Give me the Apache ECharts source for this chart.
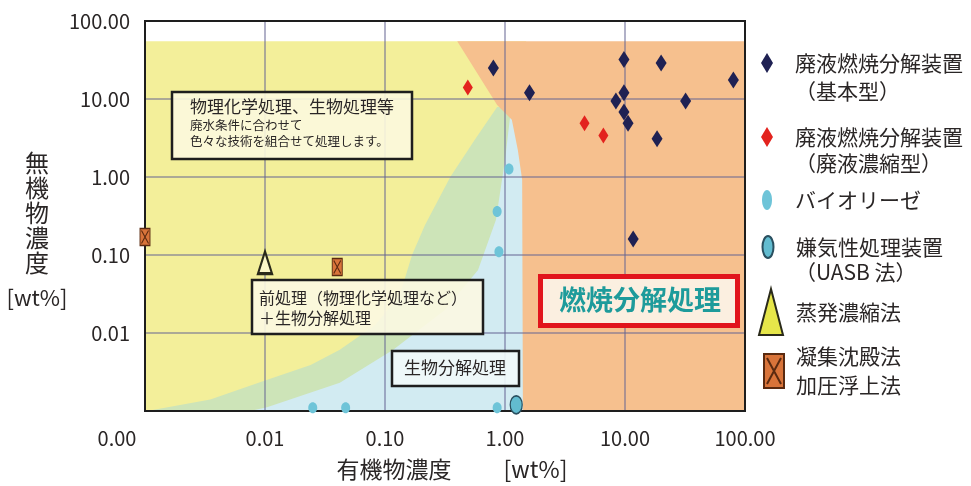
<!DOCTYPE html>
<html>
<head>
<meta charset="utf-8">
<script src="https://cdn.jsdelivr.net/npm/echarts@6/dist/echarts.min.js"></script>
<style>
html,body{margin:0;padding:0;background:#fff;}
#chart{width:971px;height:486px;}
</style>
</head>
<body>
<div id="chart"></div>
<script>
// ---- tick labels ----
const xTickLabels = ['0.00', '0.01', '0.10', '1.00', '10.00', '100.00'];
const yTickLabels = ['', '0.01', '0.10', '1.00', '10.00', '100.00'];

// ---- background regions [organic wt%, inorganic wt%] ----
const yellowRegion = [[0.001, 0.001], [0.001, 55], [1.5, 55], [1.5, 0.001]];
const greenRegion = [[0.00104, 0.001], [0.0035, 0.0014], [0.0096, 0.0024], [0.024, 0.0039], [0.042, 0.0061],
  [0.083, 0.0127], [0.133, 0.031], [0.168, 0.1], [0.215, 0.24], [0.35, 1.0], [0.56, 3.0], [0.86, 7.9],
  [1.5, 7.9], [1.5, 0.001]];
const blueRegion = [[0.0075, 0.001], [0.0104, 0.00112], [0.042, 0.0023], [0.117, 0.0061], [0.316, 0.0197],
  [0.596, 0.064], [0.84, 0.28], [1.0, 1.65], [1.1, 5.7], [1.5, 5.7], [1.5, 0.001]];
const orangeRegion = [[0.4, 55], [0.86, 8.4], [1.14, 5.4], [1.28, 2.2], [1.39, 0.92], [1.41, 0.001],
  [100, 0.001], [100, 55]];

// ---- series values [organic wt%, inorganic wt%] ----
const basicType = [[0.8, 25], [1.6, 12], [9.8, 32], [20, 29], [80, 17.5], [32, 9.4], [9.8, 12], [8.4, 9.4],
  [9.8, 6.8], [10.6, 4.9], [18.5, 3.1], [11.7, 0.16]];
const concType = [[0.49, 14], [4.6, 4.9], [6.6, 3.4]];
const bioReese = [[1.08, 1.27], [0.86, 0.36], [0.89, 0.11], [0.025, 0.0011], [0.047, 0.0011], [0.86, 0.0011]];
const uasb = [[1.24, 0.0012]];
const evaporation = [[0.01, 0.08]];
const coagulation = [[0.001, 0.17], [0.04, 0.07]];

const seriesNames = ['廃液燃焼分解装置\n（基本型）', '廃液燃焼分解装置\n（廃液濃縮型）', 'バイオリーゼ',
  '嫌気性処理装置\n（UASB 法）', '蒸発濃縮法', '凝集沈殿法\n加圧浮上法'];

const FONT = '"Noto Sans CJK JP", "Noto Sans", sans-serif';
const TXT = '#2a2626';

const DIAMOND = 'path://M6,0 L12,10 L6,20 L0,10 Z';
const ELLIPSE = 'path://M5,0 C7.76,0 10,4.48 10,10 C10,15.52 7.76,20 5,20 C2.24,20 0,15.52 0,10 C0,4.48 2.24,0 5,0 Z';
const TRI = 'path://M12,0 L24,46 L0,46 Z';
const XRECT = 'path://M0,0 L10,0 L10,17 L0,17 Z M1.5,2 L8.5,15 M8.5,2 L1.5,15';

function regionSeries(pts, color) {
  return {
    type: 'custom', data: pts, z: 1, silent: true,
    encode: { x: 0, y: 1 },
    renderItem: function (params, api) {
      if (params.dataIndex !== 0) return null;
      return { type: 'polygon', shape: { points: pts.map(p => api.coord(p)) }, style: { fill: color } };
    }
  };
}

function legendItem(name, left, top, w, h, extra) {
  return Object.assign({
    data: [name], left: left, top: top, itemWidth: w, itemHeight: h, padding: 0,
    selectedMode: false, orient: 'vertical',
    formatter: n => n.split('\n')[0],
    textStyle: { fontSize: 21, color: TXT, fontFamily: FONT, lineHeight: 26 }
  }, extra || {});
}

const chart = echarts.init(document.getElementById('chart'));
chart.setOption({
  animation: false,
  grid: { left: 145, right: 226, top: 21, bottom: 75, show: true, borderColor: '#1e1e1e', borderWidth: 2,
    backgroundColor: 'transparent', z: 4 },
  xAxis: {
    type: 'log', logBase: 10, min: 0.001, max: 100, z: 3,
    axisLine: { show: false }, axisTick: { show: false },
    splitLine: { show: true, lineStyle: { color: 'rgba(100,100,145,0.5)', width: 2 } },
    axisLabel: {
      margin: 17, fontSize: 20, color: TXT, fontFamily: FONT,
      formatter: (v, i) => i === 0 ? '{l|' + xTickLabels[0] + '}' : xTickLabels[i],
      rich: { l: { fontSize: 20, color: TXT, fontFamily: FONT, padding: [0, 56, 0, 0] } }
    },
    name: '{a|有機物濃度}{b|[wt%]}', nameLocation: 'middle', nameGap: 47,
    nameTextStyle: {
      rich: {
        a: { fontSize: 23, color: TXT, fontFamily: FONT, padding: [0, 0, 0, 14] },
        b: { fontSize: 23, color: TXT, fontFamily: FONT, padding: [0, 0, 0, 52] }
      }
    }
  },
  yAxis: {
    type: 'log', logBase: 10, min: 0.001, max: 100, z: 3,
    axisLine: { show: false }, axisTick: { show: false },
    splitLine: { show: true, lineStyle: { color: 'rgba(100,100,145,0.5)', width: 2 } },
    axisLabel: { margin: 15, fontSize: 20, color: TXT, fontFamily: FONT,
      formatter: (v, i) => yTickLabels[i] }
  },
  legend: [
    legendItem(seriesNames[0], 761, 50, 46, 20),
    legendItem(seriesNames[1], 761, 124, 46, 20),
    legendItem(seriesNames[2], 762, 187, 46, 20),
    legendItem(seriesNames[3], 761.5, 234, 46, 22),
    legendItem(seriesNames[4], 758, 288, 40, 46, { data: [{ name: seriesNames[4], itemStyle: { color: '#e6e64a' } }] }),
    legendItem(seriesNames[5], 763, 342, 34, 34, { formatter: n => n, textStyle: { fontSize: 21, color: TXT, fontFamily: FONT, lineHeight: 29 } })
  ],
  graphic: [
    // y axis title
    { type: 'text', x: 37, y: 150, z: 10, style: { text: '無\n機\n物\n濃\n度', fontSize: 24, lineHeight: 25, fontFamily: FONT, fill: TXT, textAlign: 'center', textVerticalAlign: 'top' } },
    { type: 'text', x: 37, y: 298, z: 10, style: { text: '[wt%]', fontSize: 22, fontFamily: FONT, fill: TXT, textAlign: 'center', textVerticalAlign: 'middle' } },
    // legend continuation lines
    { type: 'text', x: 795, y: 91, z: 10, style: { text: '（基本型）', fontSize: 21, fontFamily: FONT, fill: TXT, textVerticalAlign: 'middle' } },
    { type: 'text', x: 795, y: 163, z: 10, style: { text: '（廃液濃縮型）', fontSize: 21, fontFamily: FONT, fill: TXT, textVerticalAlign: 'middle' } },
    { type: 'text', x: 795, y: 272, z: 10, style: { text: '（UASB 法）', fontSize: 21, fontFamily: FONT, fill: TXT, textVerticalAlign: 'middle' } },
    // box 1
    { type: 'rect', z: 10, shape: { x: 172, y: 92, width: 240, height: 67 }, style: { fill: 'rgba(252,248,222,0.9)', stroke: '#1e1e1e', lineWidth: 2.5 } },
    { type: 'text', x: 190, y: 107, z: 11, style: { text: '物理化学処理、生物処理等', fontSize: 17, fontFamily: FONT, fill: TXT, textVerticalAlign: 'middle' } },
    { type: 'text', x: 190, y: 125, z: 11, style: { text: '廃水条件に合わせて', fontSize: 12.5, fontFamily: FONT, fill: TXT, textVerticalAlign: 'middle' } },
    { type: 'text', x: 190, y: 141, z: 11, style: { text: '色々な技術を組合せて処理します。', fontSize: 12.5, fontFamily: FONT, fill: TXT, textVerticalAlign: 'middle' } },
    // box 2
    { type: 'rect', z: 10, shape: { x: 252, y: 280, width: 231, height: 54 }, style: { fill: 'rgba(252,248,226,0.9)', stroke: '#1e1e1e', lineWidth: 2.5 } },
    { type: 'text', x: 259, y: 298, z: 11, style: { text: '前処理（物理化学処理など）', fontSize: 16, fontFamily: FONT, fill: TXT, textVerticalAlign: 'middle' } },
    { type: 'text', x: 259, y: 318, z: 11, style: { text: '＋生物分解処理', fontSize: 16, fontFamily: FONT, fill: TXT, textVerticalAlign: 'middle' } },
    // box 3
    { type: 'rect', z: 10, shape: { x: 392, y: 351, width: 127, height: 35 }, style: { fill: 'rgba(240,248,250,0.92)', stroke: '#1e1e1e', lineWidth: 2.5 } },
    { type: 'text', x: 455, y: 368, z: 11, style: { text: '生物分解処理', fontSize: 17, fontFamily: FONT, fill: TXT, textAlign: 'center', textVerticalAlign: 'middle' } },
    // box 4
    { type: 'rect', z: 10, shape: { x: 540.5, y: 276.5, width: 197, height: 49 }, style: { fill: '#fbefe0', stroke: '#e1141c', lineWidth: 5 } },
    { type: 'text', x: 640, y: 300, z: 11, style: { text: '燃焼分解処理', fontSize: 27, fontWeight: 'bold', fontFamily: FONT, fill: '#1e9b9b', textAlign: 'center', textVerticalAlign: 'middle' } }
  ],
  series: [
    regionSeries(yellowRegion, '#f3ef9a'),
    regionSeries(greenRegion, '#cde4b8'),
    regionSeries(blueRegion, '#d2ebf2'),
    regionSeries(orangeRegion, '#f6c08e'),
    { name: seriesNames[0], type: 'scatter', z: 6, data: basicType, symbol: DIAMOND, symbolSize: [11, 17],
      itemStyle: { color: '#1f2153', opacity: 1 } },
    { name: seriesNames[1], type: 'scatter', z: 6, data: concType, symbol: DIAMOND, symbolSize: [10, 16],
      itemStyle: { color: '#e3231e', opacity: 1 } },
    { name: seriesNames[2], type: 'scatter', z: 6, data: bioReese, symbol: ELLIPSE, symbolSize: [9, 11],
      itemStyle: { color: '#6ec4d8', opacity: 1 } },
    { name: seriesNames[3], type: 'scatter', z: 6, data: uasb, symbol: ELLIPSE, symbolSize: [12, 18],
      itemStyle: { color: '#62bcd0', borderColor: '#2a5060', borderWidth: 1.5, opacity: 1 } },
    { name: seriesNames[4], type: 'scatter', z: 6, data: evaporation, symbol: TRI, symbolSize: [14, 22],
      itemStyle: { color: '#fbf7c8', borderColor: '#2a2a1a', borderWidth: 2.5, opacity: 1 } },
    { name: seriesNames[5], type: 'scatter', z: 6, data: coagulation, symbol: XRECT, symbolSize: [10, 17],
      itemStyle: { color: '#d9743a', borderColor: '#5a2a10', borderWidth: 1.2, opacity: 1 } }
  ]
});
</script>
</body>
</html>
